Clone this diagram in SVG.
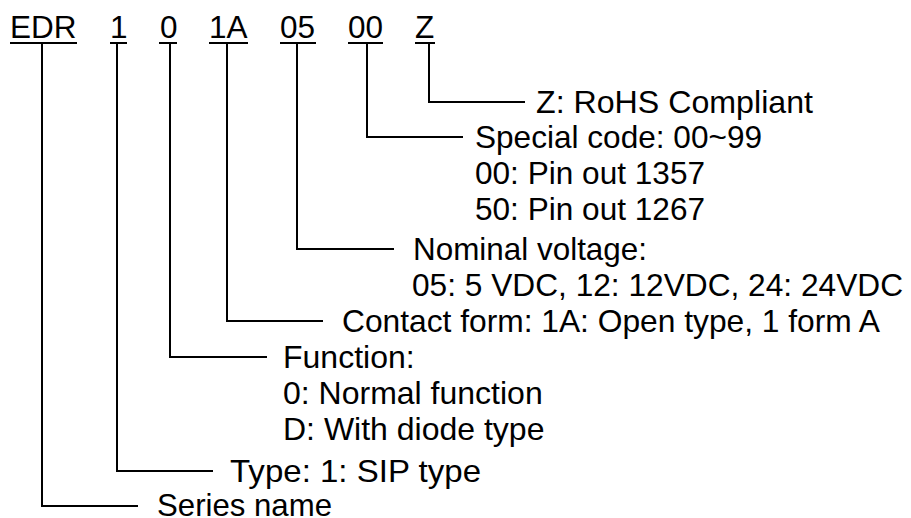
<svg xmlns="http://www.w3.org/2000/svg" width="911" height="518" viewBox="0 0 911 518">
<style>
text{font-family:"Liberation Sans",Arial,sans-serif;font-size:32px;fill:#000}
#header text{font-size:31.5px}
.l{stroke:#000;stroke-width:2;fill:none}
</style>
<rect width="911" height="518" fill="#fff"/>
<g id="header">
<text x="10" y="38">EDR</text>
<text x="110" y="38">1</text>
<text x="160" y="38">0</text>
<text x="209" y="38">1A</text>
<text x="280" y="38">05</text>
<text x="348" y="38">00</text>
<text x="415" y="38">Z</text>
<path class="l" d="M10 43H77M110 43H127M159 43H177M209 43H248M280 43H316M348 43H383M415 43H435"/>
</g>
<g id="connectors">
<path class="l" d="M429 44V102H525"/>
<path class="l" d="M367 44V137H463"/>
<path class="l" d="M297 44V249H394"/>
<path class="l" d="M227 44V321H323"/>
<path class="l" d="M170 44V357H267"/>
<path class="l" d="M117 44V471H213"/>
<path class="l" d="M42 44V506H138"/>
</g>
<g id="rohs"><text x="536" y="113" textLength="277" lengthAdjust="spacingAndGlyphs">Z: RoHS Compliant</text></g>
<g id="special"><text x="475" y="148" textLength="287" lengthAdjust="spacingAndGlyphs">Special code: 00~99</text><text x="475" y="184" textLength="230" lengthAdjust="spacingAndGlyphs">00: Pin out 1357</text><text x="475" y="220" textLength="230" lengthAdjust="spacingAndGlyphs">50: Pin out 1267</text></g>
<g id="voltage"><text x="413" y="260" textLength="234" lengthAdjust="spacingAndGlyphs">Nominal voltage:</text><text x="412" y="296" textLength="491" lengthAdjust="spacingAndGlyphs">05: 5 VDC, 12: 12VDC, 24: 24VDC</text></g>
<g id="contact"><text x="342" y="332" textLength="538" lengthAdjust="spacingAndGlyphs">Contact form: 1A: Open type, 1 form A</text></g>
<g id="function"><text x="283" y="368">Function:</text><text x="283" y="404">0: Normal function</text><text x="283" y="440">D: With diode type</text></g>
<g id="type"><text x="230" y="482" textLength="251" lengthAdjust="spacingAndGlyphs">Type: 1: SIP type</text></g>
<g id="series"><text x="157" y="516" textLength="175" lengthAdjust="spacingAndGlyphs">Series name</text></g>
</svg>
